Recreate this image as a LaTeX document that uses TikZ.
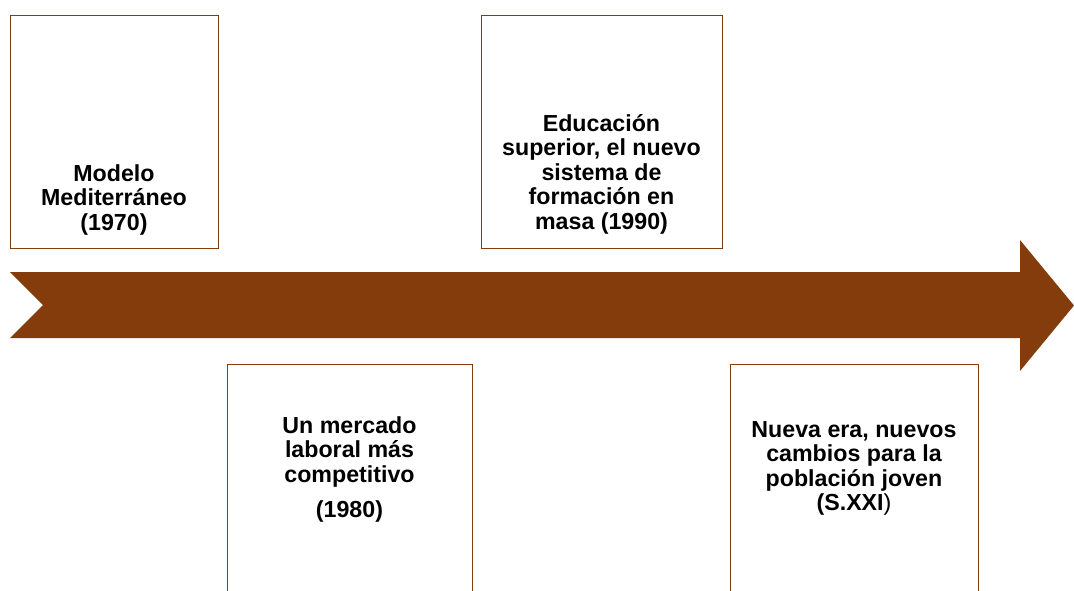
\documentclass[tikz,border=0pt]{standalone}
\usepackage{fontspec}
\setmainfont{Liberation Sans}
\definecolor{brownarrow}{HTML}{843C0C}
\tikzset{
  frame/.style={draw=brownarrow, line width=1.4pt, fill=none, rectangle, inner sep=0pt, anchor=north west},
  label/.style={anchor=north, inner sep=0pt, align=center, text=black,
    font={\fontsize{23.2}{24.5}\selectfont\bfseries}},
}
\begin{document}
\begin{tikzpicture}[x=1pt,y=-1pt]
\useasboundingbox (0,0) rectangle (1074,590);
\clip (0,0) rectangle (1074,590);
\fill[white] (0,0) rectangle (1074,590);
% timeline arrow
\fill[brownarrow] (10,272) -- (1020,272) -- (1020,240) -- (1074,305.5) -- (1020,371) -- (1020,338) -- (10,338) -- (43,305) -- cycle;
% boxes
\node[frame, minimum width=208pt, minimum height=233pt] (b1) at (10,15) {};
\node[frame, minimum width=241pt, minimum height=233pt] (b2) at (481,15) {};
\node[frame, minimum width=245pt, minimum height=260pt] (b3) at (227,364) {};
\node[frame, minimum width=248pt, minimum height=260pt] (b4) at (730,364) {};
% texts
\node[label] (t1) at (114,164) {Modelo\\Mediterráneo\\(1970)};
\node[label] (t2) at (601.5,114) {Educación\\superior, el nuevo\\sistema de\\formación en\\masa (1990)};
\node[label] (t3) at (349.5,416) {Un mercado\\laboral más\\competitivo\\[11pt](1980)};
\node[label] (t4) at (854,421) {Nueva era, nuevos\\cambios para la\\población joven\\(S.XXI{\mdseries )}};
\end{tikzpicture}
\end{document}
